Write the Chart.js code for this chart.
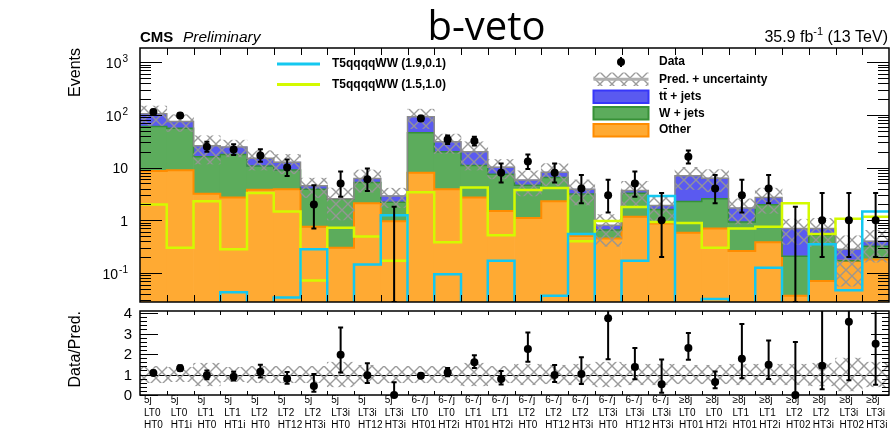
<!DOCTYPE html>
<html>
<head>
<meta charset="utf-8">
<title>b-veto</title>
<script src="https://cdn.jsdelivr.net/npm/chart.js@4.4.1/dist/chart.umd.min.js"></script>
<style>
  body { margin: 0; background: #fff; }
  #wrap { position: relative; width: 894px; height: 432px; overflow: hidden; }
  canvas { position: absolute; left: 0; }
</style>
</head>
<body>
<div id="wrap">
  <canvas id="main" width="894" height="306" style="top:0"></canvas>
  <canvas id="ratio" width="894" height="126" style="top:306px"></canvas>
</div>
<script>
// search bins: n-jet / LT / HT
const categories = [
    ['5j', 'LT0', 'HT0'], ['5j', 'LT0', 'HT1i'], ['5j', 'LT1', 'HT0'], ['5j', 'LT1', 'HT1i'],
    ['5j', 'LT2', 'HT0'], ['5j', 'LT2', 'HT12'], ['5j', 'LT2', 'HT3i'], ['5j', 'LT3i', 'HT0'],
    ['5j', 'LT3i', 'HT12'], ['5j', 'LT3i', 'HT3i'],
    ['6-7j', 'LT0', 'HT01'], ['6-7j', 'LT0', 'HT2i'], ['6-7j', 'LT1', 'HT01'], ['6-7j', 'LT1', 'HT2i'],
    ['6-7j', 'LT2', 'HT0'], ['6-7j', 'LT2', 'HT12'], ['6-7j', 'LT2', 'HT3i'], ['6-7j', 'LT3i', 'HT0'],
    ['6-7j', 'LT3i', 'HT12'], ['6-7j', 'LT3i', 'HT3i'],
    ['≥8j', 'LT0', 'HT01'], ['≥8j', 'LT0', 'HT2i'], ['≥8j', 'LT1', 'HT01'], ['≥8j', 'LT1', 'HT2i'],
    ['≥8j', 'LT2', 'HT02'], ['≥8j', 'LT2', 'HT3i'], ['≥8j', 'LT3i', 'HT02'], ['≥8j', 'LT3i', 'HT3i']
];

// background prediction, stacked
const other  = [8.6, 8.9, 3.2, 2.7, 3.8, 3.9, 0.75, 0.30, 2.1, 0.96, 8.0, 3.9, 2.7, 1.5, 1.1, 2.3, 0.50, 0.45, 1.16, 0.87, 0.58, 0.70, 0.26, 0.38, 0.037, 0.07, 0.17, 0.18];
const wjets  = [52, 47, 12.8, 15, 6.9, 5.1, 3.15, 2.2, 3.1, 1.24, 38, 16, 8.3, 6.0, 3.5, 4.2, 2.65, 0.20, 2.1, 0.73, 1.7, 1.85, 0.67, 1.6, 0.17, 0.45, 0.0, 0.14];
const ttjets = [45, 19, 10, 6.9, 4.3, 3.7, 0.6, 0.05, 1.0, 0.7, 46, 11, 9, 2.7, 1.2, 1.7, 0.75, 0.15, 0.4, 0.3, 4.7, 3.75, 0.77, 0.73, 0.49, 0.18, 0.11, 0.08];
// relative uncertainty of the total prediction
const predUnc = [0.4, 0.35, 0.55, 0.35, 0.4, 0.4, 0.4, 0.6, 0.45, 0.4, 0.4, 0.4, 0.55, 0.4, 0.5, 0.45, 0.5, 0.6, 0.5, 0.5, 0.45, 0.45, 0.5, 0.5, 0.5, 0.55, 0.8, 0.6];

// signal points (values under the axis floor are kept at 0.01)
const sigA = [0.01, 0.01, 0.01, 0.043, 0.01, 0.034, 0.28, 0.01, 0.144, 1.24, 0.01, 0.094, 0.01, 0.17, 0.01, 0.037, 0.55, 0.01, 0.17, 2.9, 0.01, 0.032, 0.01, 0.125, 0.01, 0.35, 0.047, 1.47];
const sigB = [2.0, 0.30, 2.3, 0.28, 3.3, 1.47, 0.072, 0.72, 0.49, 0.17, 3.4, 0.38, 4.2, 0.52, 3.75, 4.1, 0.40, 0.97, 1.78, 0.93, 0.89, 0.30, 0.70, 0.75, 2.1, 0.55, 1.07, 1.16];

// observed events with asymmetric poisson errors
const dataN     = [114, 98, 25, 22, 17, 10, 2, 5, 6, 0, 86, 34, 32, 8, 13, 8, 4, 3, 5, 1, 16, 4, 3, 4, 0, 1, 1, 1];
const dataErrLo = [10.7, 9.9, 5.0, 4.7, 4.1, 3.1, 1.3, 2.2, 2.4, 0, 9.3, 5.8, 5.6, 2.8, 3.6, 2.8, 1.9, 1.6, 2.2, 0.8, 4.0, 1.9, 1.6, 1.9, 0, 0.8, 0.8, 0.8];
const dataErrHi = [11.7, 10.9, 6.0, 5.8, 5.2, 4.3, 2.6, 3.4, 3.6, 1.8, 10.3, 6.9, 6.7, 4.0, 4.7, 4.0, 3.2, 2.9, 3.4, 2.3, 5.1, 3.2, 2.9, 3.2, 1.8, 2.3, 2.3, 2.3];

// axis labels
const mainTicks = [0.1, 1, 10, 100, 1000];
const mainTickLabels = [['10', '-1'], ['1', ''], ['10', ''], ['10', '2'], ['10', '3']];
const ratioTicks = [0, 1, 2, 3, 4];

const FONT = '"Liberation Sans", Arial, Helvetica, sans-serif';
const nBins = categories.length;
const colors = {
    other: 'rgb(255,170,51)', otherLine: 'rgb(255,140,0)',
    wjets: 'rgb(92,172,92)', wjetsLine: 'rgb(55,145,55)',
    tt: 'rgb(90,90,240)', ttLine: 'rgb(55,55,250)',
    sigA: 'rgb(20,200,240)', sigB: 'rgb(212,250,0)',
    pred: 'rgb(140,140,140)'
};

const otherW = other.map((v, i) => v + wjets[i]);
const total = otherW.map((v, i) => v + ttjets[i]);

function binBars(lo, hi) {
    return lo.map((l, i) => ({x: i + 0.5, y: [l, hi[i]]}));
}
// histogram outline: a point on each left bin edge, closed at the right end
function steps(vals) {
    const pts = vals.map((v, i) => ({x: i, y: v}));
    pts.push({x: vals.length, y: vals[vals.length - 1]});
    return pts;
}

// grey X hatching for the uncertainty band
function makeHatch(ctx) {
    const s = 12;
    const c = document.createElement('canvas');
    c.width = s; c.height = s;
    const g = c.getContext('2d');
    g.strokeStyle = 'rgba(150,150,150,0.95)';
    g.lineWidth = 1.4;
    g.beginPath();
    g.moveTo(0, 0); g.lineTo(s, s);
    g.moveTo(s, 0); g.lineTo(0, s);
    g.stroke();
    return ctx.createPattern(c, 'repeat');
}

function drawErrors(chart, lo, hi) {
    const {ctx, chartArea: a, scales: {x, y}} = chart;
    ctx.save();
    ctx.beginPath();
    ctx.rect(a.left, a.top, a.right - a.left, a.bottom - a.top);
    ctx.clip();
    ctx.strokeStyle = '#000';
    ctx.lineWidth = 2;
    for (let i = 0; i < nBins; i++) {
        const px = x.getPixelForValue(i + 0.5);
        const p1 = y.getPixelForValue(lo[i]);
        const p2 = y.getPixelForValue(hi[i]);
        ctx.beginPath();
        ctx.moveTo(px, p1); ctx.lineTo(px, p2);
        ctx.moveTo(px - 2.5, p1); ctx.lineTo(px + 2.5, p1);
        ctx.moveTo(px - 2.5, p2); ctx.lineTo(px + 2.5, p2);
        ctx.stroke();
    }
    ctx.restore();
}

function drawFrame(chart, o) {
    const {ctx, chartArea: a, scales: {x, y}} = chart;
    ctx.save();
    ctx.strokeStyle = '#000';
    ctx.lineWidth = 1;
    ctx.beginPath();
    for (let i = 1; i < nBins; i++) {
        const px = Math.round(x.getPixelForValue(i)) + 0.5;
        ctx.moveTo(px, a.top); ctx.lineTo(px, a.top + o.xTick);
        ctx.moveTo(px, a.bottom); ctx.lineTo(px, a.bottom - o.xTick);
    }
    const tick = (v, len) => {
        const py = Math.round(y.getPixelForValue(v)) + 0.5;
        ctx.moveTo(a.left, py); ctx.lineTo(a.left + len, py);
        ctx.moveTo(a.right, py); ctx.lineTo(a.right - len, py);
    };
    o.major.forEach(v => tick(v, o.majorLen));
    o.minor.forEach(v => tick(v, o.minorLen));
    ctx.stroke();
    ctx.lineWidth = 1.5;
    ctx.strokeRect(a.left, a.top, a.right - a.left, a.bottom - a.top);
    ctx.restore();
}

function vText(ctx, str, x, yTop, font) {
    ctx.save();
    ctx.translate(x, yTop);
    ctx.rotate(-Math.PI / 2);
    ctx.font = font;
    ctx.textAlign = 'right';
    ctx.textBaseline = 'alphabetic';
    ctx.fillStyle = '#000';
    ctx.fillText(str, 0, 0);
    ctx.restore();
}

const mainCtx = document.getElementById('main').getContext('2d');
const hatch = makeHatch(mainCtx);

const mainMinor = [];
for (let e = -2; e <= 3; e++) {
    for (let k = 2; k <= 9; k++) {
        const v = k * Math.pow(10, e);
        if (v > 0.028 && v < 1870) mainMinor.push(v);
    }
}

const mainDecor = {
    id: 'mainDecor',
    afterDatasetsDraw(chart) {
        drawErrors(chart,
            dataN.map((n, i) => Math.max(n - dataErrLo[i], 0)),
            dataN.map((n, i) => n + dataErrHi[i]));
    },
    afterDraw(chart) {
        const {ctx, scales: {y}} = chart;
        drawFrame(chart, {xTick: 7, major: mainTicks, minor: mainMinor, majorLen: 22, minorLen: 11});

        ctx.save();
        ctx.fillStyle = '#000';
        // y tick labels with exponents
        mainTicks.forEach((v, i) => {
            const [base, sup] = mainTickLabels[i];
            const py = y.getPixelForValue(v) + 2;
            ctx.font = `14px ${FONT}`;
            const wb = ctx.measureText(base).width;
            ctx.font = `10px ${FONT}`;
            const ws = sup ? ctx.measureText(sup).width + 1 : 0;
            const xr = 128;
            ctx.textBaseline = 'middle';
            ctx.textAlign = 'left';
            ctx.font = `14px ${FONT}`;
            ctx.fillText(base, xr - ws - wb, py);
            if (sup) {
                ctx.font = `10px ${FONT}`;
                ctx.fillText(sup, xr - ws + 1, py - 5);
            }
        });

        vText(ctx, 'Events', 80, 48, `16px ${FONT}`);

        // header
        ctx.textBaseline = 'alphabetic';
        ctx.textAlign = 'left';
        ctx.font = `bold 15px ${FONT}`;
        ctx.fillText('CMS', 140, 41.5);
        ctx.font = `italic 15.5px ${FONT}`;
        ctx.fillText('Preliminary', 183, 41.5);

        ctx.font = '40px "Open Sans", "Noto Sans", sans-serif';
        ctx.textAlign = 'center';
        ctx.fillText('b-veto', 486.5, 39.5);

        ctx.textAlign = 'left';
        ctx.font = `16px ${FONT}`;
        const w1 = ctx.measureText('35.9 fb').width;
        const w3 = ctx.measureText(' (13 TeV)').width;
        ctx.font = `11px ${FONT}`;
        const w2 = ctx.measureText('-1').width;
        let lx = 888 - w1 - w2 - w3;
        ctx.font = `16px ${FONT}`;
        ctx.fillText('35.9 fb', lx, 41.5);
        ctx.font = `11px ${FONT}`;
        ctx.fillText('-1', lx + w1, 35);
        ctx.font = `16px ${FONT}`;
        ctx.fillText(' (13 TeV)', lx + w1 + w2, 41.5);

        // signal legend
        ctx.font = `bold 12px ${FONT}`;
        ctx.textBaseline = 'middle';
        [[colors.sigA, 64, chart.data.datasets[1].label], [colors.sigB, 84.5, chart.data.datasets[2].label]].forEach(([c, ly, lbl]) => {
            ctx.strokeStyle = c;
            ctx.lineWidth = 3;
            ctx.beginPath();
            ctx.moveTo(277, ly); ctx.lineTo(320, ly);
            ctx.stroke();
            ctx.fillStyle = '#000';
            ctx.fillText(lbl, 332, ly);
        });

        // background legend
        const bx = 593.5, bw = 55, tx = 659;
        ctx.fillStyle = '#000';
        ctx.beginPath();
        ctx.arc(621, 62, 4, 0, Math.PI * 2);
        ctx.fill();
        ctx.strokeStyle = '#000';
        ctx.lineWidth = 2;
        ctx.beginPath();
        ctx.moveTo(621, 57); ctx.lineTo(621, 67);
        ctx.stroke();
        ctx.fillText('Data', tx, 62);

        ctx.fillStyle = hatch;
        ctx.fillRect(bx, 72.5, bw, 13.5);
        ctx.strokeStyle = 'rgb(175,175,175)';
        ctx.lineWidth = 3;
        ctx.beginPath();
        ctx.moveTo(bx, 79.3); ctx.lineTo(bx + bw, 79.3);
        ctx.stroke();
        ctx.fillStyle = '#000';
        ctx.fillText('Pred. + uncertainty', tx, 79.5);

        [[colors.tt, colors.ttLine, 90.5], [colors.wjets, colors.wjetsLine, 107], [colors.other, colors.otherLine, 124]].forEach(([f, l, by]) => {
            ctx.fillStyle = f;
            ctx.fillRect(bx, by, bw, 12.5);
            ctx.strokeStyle = l;
            ctx.lineWidth = 2;
            ctx.strokeRect(bx, by, bw, 12.5);
        });
        ctx.fillStyle = '#000';
        ctx.strokeStyle = '#000';
        const wt = ctx.measureText('t').width;
        ctx.fillText('tt', tx, 96.7);
        ctx.lineWidth = 1;
        ctx.beginPath();
        ctx.moveTo(tx + wt + 0.5, 88.5); ctx.lineTo(tx + 2 * wt, 88.5);
        ctx.stroke();
        ctx.fillText(' + jets', tx + 2 * wt, 96.7);
        ctx.fillText('W + jets', tx, 113.3);
        ctx.fillText('Other', tx, 130);
        ctx.restore();
    }
};

// 'before' in Chart.js runs flat at the previous point's value, then rises at the next edge
const stepLine = (label, vals, color, width, order) => ({
    type: 'line', label, data: steps(vals), stepped: 'before',
    borderColor: color, borderWidth: width, pointRadius: 0, fill: false, order
});
const barSet = (label, lo, hi, color, order) => ({
    type: 'bar', label, data: binBars(lo, hi), backgroundColor: color,
    borderWidth: 0, grouped: false, barPercentage: 1, categoryPercentage: 1, order
});

new Chart(mainCtx, {
    type: 'bar',
    data: {
        datasets: [
            {type: 'scatter', label: 'Data', data: dataN.map((n, i) => ({x: i + 0.5, y: n > 0 ? n : null})),
             pointRadius: 4, pointBackgroundColor: '#000', pointBorderWidth: 0, order: 0},
            stepLine('T5qqqqWW (1.9,0.1)', sigA, colors.sigA, 2.5, 1),
            stepLine('T5qqqqWW (1.5,1.0)', sigB, colors.sigB, 2.5, 2),
            stepLine('Pred.', total, colors.pred, 1.5, 3),
            barSet('Pred. + uncertainty', total.map((t, i) => t * (1 - predUnc[i])), total.map((t, i) => t * (1 + predUnc[i])), hatch, 4),
            stepLine('W + jets edge', otherW, colors.wjetsLine, 1.5, 5),
            stepLine('Other edge', other, colors.otherLine, 2, 6),
            barSet('tt + jets', otherW, total, colors.tt, 7),
            barSet('W + jets', other, otherW, colors.wjets, 8),
            barSet('Other', other.map(() => 1e-4), other, colors.other, 9)
        ]
    },
    options: {
        responsive: false,
        animation: false,
        events: [],
        layout: {padding: {left: 140, right: 5, top: 48, bottom: 3}},
        plugins: {legend: {display: false}, tooltip: {enabled: false}},
        scales: {
            x: {type: 'linear', min: 0, max: nBins, offset: false, display: false, ticks: {stepSize: 1}},
            y: {type: 'logarithmic', min: 0.028, max: 1870, display: false}
        }
    },
    plugins: [mainDecor]
});

// ratio panel
const ratioMinor = [];
for (let k = 1; k < 21; k++) {
    if (k % 5 !== 0) ratioMinor.push(k * 0.2);
}

const ratioDecor = {
    id: 'ratioDecor',
    beforeDatasetsDraw(chart) {
        const {ctx, chartArea: a, scales: {y}} = chart;
        ctx.save();
        ctx.strokeStyle = '#000';
        ctx.lineWidth = 1;
        const py = Math.round(y.getPixelForValue(1)) + 0.5;
        ctx.beginPath();
        ctx.moveTo(a.left, py); ctx.lineTo(a.right, py);
        ctx.stroke();
        ctx.restore();
    },
    afterDatasetsDraw(chart) {
        drawErrors(chart,
            dataN.map((n, i) => Math.max(n - dataErrLo[i], 0) / total[i]),
            dataN.map((n, i) => (n + dataErrHi[i]) / total[i]));
    },
    afterDraw(chart) {
        const {ctx, scales: {x, y}} = chart;
        drawFrame(chart, {xTick: 4, major: ratioTicks, minor: ratioMinor, majorLen: 18, minorLen: 7});
        ctx.save();
        ctx.fillStyle = '#000';
        ctx.font = `15px ${FONT}`;
        ctx.textAlign = 'right';
        ctx.textBaseline = 'middle';
        ratioTicks.forEach(v => ctx.fillText(String(v), 132, y.getPixelForValue(v) + 1));

        vText(ctx, 'Data/Pred.', 80, 5, `16px ${FONT}`);

        ctx.font = `10px ${FONT}`;
        ctx.textAlign = 'left';
        categories.forEach((lines, i) => {
            const lx = x.getPixelForValue(i) + 4;
            lines.forEach((t, j) => ctx.fillText(t, lx, 94.5 + j * 12.5));
        });
        ctx.restore();
    }
};

new Chart(document.getElementById('ratio'), {
    type: 'bar',
    data: {
        datasets: [
            {type: 'scatter', label: 'Data/Pred.', data: dataN.map((n, i) => ({x: i + 0.5, y: n / total[i]})),
             pointRadius: 4, pointBackgroundColor: '#000', pointBorderWidth: 0, clip: false, order: 0},
            barSet('uncertainty', predUnc.map(u => 1 - u), predUnc.map(u => 1 + u), hatch, 1)
        ]
    },
    options: {
        responsive: false,
        animation: false,
        events: [],
        layout: {padding: {left: 140, right: 5, top: 5, bottom: 37}},
        plugins: {legend: {display: false}, tooltip: {enabled: false}},
        scales: {
            x: {type: 'linear', min: 0, max: nBins, offset: false, display: false, ticks: {stepSize: 1}},
            y: {type: 'linear', min: 0, max: 4.1, display: false}
        }
    },
    plugins: [ratioDecor]
});
</script>
</body>
</html>
